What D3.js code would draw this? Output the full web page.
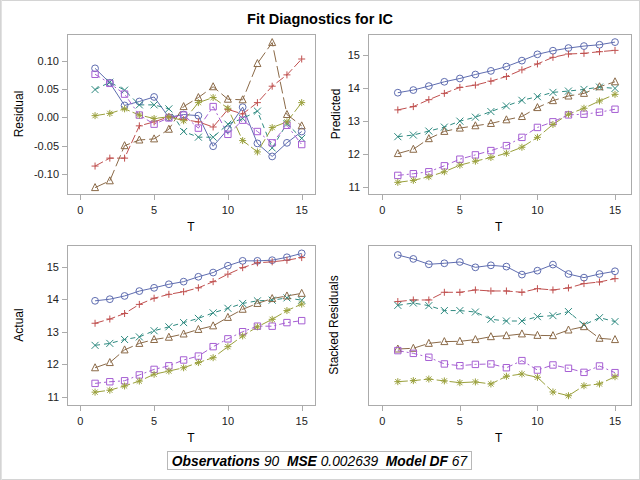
<!DOCTYPE html>
<html><head><meta charset="utf-8">
<script src="https://cdn.jsdelivr.net/npm/d3@7"></script>
<style>body{margin:0;background:#fff;} text{font-family:"Liberation Sans",Arial,sans-serif;}</style>
</head><body><svg id="c" width="640" height="480"></svg>
<script>
const T = d3.range(1, 16);
const seriesNames = ["S1","S2","S3","S4","S5","S6"];
const colors = ["#5f6db0","#c0504f","#2e8a80","#8b6a48","#a65fd3","#9aa03c"];
const dashes = [null,"9,3","5,4","12,4","6,3,2,3","10,3"];
const markers = ["circle","plus","x","triangle","square","star"];

const residual = [
 [0.0865,0.061,0.021,0.028,0.036,0.000,0.005,0.003,-0.051,-0.021,0.018,-0.046,-0.069,-0.045,-0.025],
 [-0.086,-0.072,-0.072,-0.015,-0.008,0.001,-0.004,-0.008,-0.017,0.014,0.006,0.026,0.055,0.075,0.103],
 [0.049,0.062,0.048,0.022,0.022,0.015,-0.025,-0.035,-0.035,-0.012,-0.002,0.011,-0.054,-0.011,-0.037],
 [-0.124,-0.112,-0.050,-0.040,-0.038,-0.021,0.019,0.035,0.054,0.032,0.031,0.095,0.132,0.005,-0.015],
 [0.076,0.060,0.041,0.004,-0.012,-0.001,0.004,-0.019,0.019,-0.030,-0.005,-0.025,-0.045,-0.014,-0.048],
 [0.003,0.007,0.015,0.004,-0.002,0.001,-0.006,0.026,0.035,0.016,-0.041,-0.061,-0.018,-0.008,0.026]
];
const predicted = [
 [13.86,13.94,14.06,14.19,14.29,14.41,14.52,14.65,14.83,15.02,15.13,15.21,15.27,15.31,15.39],
 [13.34,13.44,13.65,13.84,14.02,14.09,14.21,14.35,14.55,14.73,14.93,15.03,15.05,15.10,15.14],
 [12.53,12.58,12.70,12.82,13.00,13.12,13.29,13.46,13.63,13.74,13.87,13.91,13.96,14.03,13.99],
 [12.02,12.15,12.47,12.69,12.79,12.86,12.93,13.04,13.14,13.41,13.62,13.76,13.84,14.04,14.19],
 [11.36,11.41,11.47,11.65,11.85,11.98,12.11,12.26,12.51,12.81,12.98,13.19,13.21,13.27,13.36],
 [11.15,11.21,11.32,11.47,11.67,11.79,11.90,12.03,12.21,12.51,12.90,13.21,13.39,13.61,13.81]
];
const actual = [
 [13.95,14.00,14.10,14.25,14.35,14.46,14.54,14.69,14.82,15.03,15.18,15.18,15.20,15.29,15.41],
 [13.26,13.39,13.56,13.84,14.03,14.15,14.23,14.35,14.54,14.77,14.97,15.12,15.15,15.20,15.28],
 [12.58,12.64,12.76,12.84,13.03,13.15,13.28,13.41,13.58,13.72,13.87,13.95,13.97,14.04,13.97],
 [11.89,12.05,12.44,12.64,12.76,12.83,12.93,13.07,13.18,13.44,13.69,13.87,14.02,14.10,14.18],
 [11.41,11.46,11.49,11.67,11.84,11.95,12.13,12.25,12.54,12.78,13.00,13.17,13.17,13.28,13.34],
 [11.14,11.20,11.33,11.48,11.69,11.79,11.89,12.05,12.20,12.54,12.87,13.15,13.38,13.65,13.85]
];
const stacked = [
 [1.034,1.007,0.970,0.977,0.986,0.949,0.963,0.954,0.899,0.926,0.968,0.903,0.878,0.903,0.922],
 [0.713,0.724,0.724,0.777,0.777,0.793,0.786,0.786,0.777,0.802,0.793,0.807,0.837,0.848,0.871],
 [0.687,0.703,0.685,0.651,0.651,0.641,0.591,0.579,0.579,0.609,0.616,0.644,0.552,0.602,0.575],
 [0.386,0.391,0.425,0.437,0.439,0.451,0.471,0.478,0.490,0.480,0.478,0.517,0.540,0.460,0.451],
 [0.375,0.356,0.329,0.283,0.271,0.280,0.283,0.257,0.306,0.241,0.276,0.253,0.225,0.269,0.223],
 [0.161,0.168,0.179,0.166,0.154,0.159,0.145,0.198,0.214,0.191,0.090,0.064,0.133,0.145,0.195]
];
const xTicks = [0,5,10,15];
const residTicks = [-0.10,-0.05,0.00,0.05,0.10];
const levelTicks = [11,12,13,14,15];
const title = "Fit Diagnostics for IC";
const footer = [["Observations",true],[" 90  ",false],["MSE",true],[" 0.002639  ",false],["Model DF",true],[" 67",false]];

const svg = d3.select("#c");
const frameCol = "#ababab";
svg.append("rect").attr("x",0.5).attr("y",0.5).attr("width",639).attr("height",479)
  .attr("fill","#fff").attr("stroke","#d4d4d4");
svg.append("line").attr("x1",1.5).attr("x2",1.5).attr("y1",0).attr("y2",480).attr("stroke","#e2e2e2");

svg.append("text").attr("x",320).attr("y",24).attr("text-anchor","middle")
  .attr("font-size",14.5).attr("font-weight","bold").text(title);

function drawMarker(g, type, x, y, col){
  const s=3.5;
  if(type==="circle"){ g.append("circle").attr("cx",x).attr("cy",y).attr("r",3.4).attr("fill","none").attr("stroke",col); return;}
  let d="";
  if(type==="plus") d=`M${x-s},${y}H${x+s}M${x},${y-s}V${y+s}`;
  if(type==="x") d=`M${x-s},${y-s}L${x+s},${y+s}M${x-s},${y+s}L${x+s},${y-s}`;
  if(type==="triangle") d=`M${x},${y-s-0.5}L${x+s},${y+s-0.5}L${x-s},${y+s-0.5}Z`;
  if(type==="square") d=`M${x-3.2},${y-3.2}h6.4v6.4h-6.4Z`;
  if(type==="star") d=`M${x-s},${y}H${x+s}M${x},${y-s}V${y+s}M${x-2.6},${y-2.6}L${x+2.6},${y+2.6}M${x-2.6},${y+2.6}L${x+2.6},${y-2.6}`;
  g.append("path").attr("d",d).attr("fill","none").attr("stroke",col).attr("stroke-width",1);
}

function panel(opt){
  const {x0,x1,y0,y1,xs,ys,data,yTicks,yFmt,ylabel,ylabelX,tickY,tLabelY} = opt;
  const g = svg.append("g");
  g.append("rect").attr("x",x0+0.5).attr("y",y0+0.5).attr("width",x1-x0).attr("height",y1-y0)
    .attr("fill","#fff").attr("stroke",frameCol);
  xTicks.forEach(t=>{
    const X = Math.round(xs(t))+0.5;
    g.append("line").attr("x1",X).attr("x2",X).attr("y1",y1+0.5).attr("y2",y1+6).attr("stroke",frameCol);
    g.append("text").attr("x",xs(t)).attr("y",tickY).attr("text-anchor","middle").attr("font-size",11).attr("fill","#222").text(t);
  });
  g.append("text").attr("x",(xs(0)+xs(15))/2).attr("y",tLabelY).attr("text-anchor","middle").attr("font-size",12).text("T");
  if(yTicks){
    yTicks.forEach(t=>{
      const Y = Math.round(ys(t))+0.5;
      g.append("line").attr("x1",x0+0.5).attr("x2",x0-5).attr("y1",Y).attr("y2",Y).attr("stroke",frameCol);
      g.append("text").attr("x",x0-8).attr("y",ys(t)+4).attr("text-anchor","end").attr("font-size",11).attr("fill","#222").text(yFmt(t));
    });
  }
  g.append("text").attr("transform",`translate(${ylabelX},${(y0+y1)/2}) rotate(-90)`)
    .attr("text-anchor","middle").attr("font-size",12).text(ylabel);
  const line = d3.line().x((d,i)=>xs(T[i])).y(d=>ys(d));
  data.forEach((s,k)=>{
    g.append("path").attr("d",line(s)).attr("fill","none").attr("stroke",colors[k])
      .attr("stroke-width",1).attr("stroke-dasharray",dashes[k]);
  });
  data.forEach((s,k)=>{
    s.forEach((v,i)=>drawMarker(g,markers[k],xs(T[i]),ys(v),colors[k]));
  });
}

const xsL = d3.scaleLinear().domain([0,15]).range([80.3,301.7]);
const xsR = d3.scaleLinear().domain([0,15]).range([382.3,615]);
const fmt2 = d=>d3.format(".2f")(d).replace("−","-");

panel({x0:67,x1:315,y0:34,y1:194,xs:xsL,ys:d3.scaleLinear().domain([-0.1,0.1]).range([174,60.7]),
  data:residual,yTicks:residTicks,yFmt:fmt2,ylabel:"Residual",ylabelX:23,tickY:214,tLabelY:231});
panel({x0:368,x1:631,y0:34,y1:194,xs:xsR,ys:d3.scaleLinear().domain([11,15]).range([187.3,55]),
  data:predicted,yTicks:levelTicks,yFmt:d=>d,ylabel:"Predicted",ylabelX:340,tickY:214,tLabelY:231});
panel({x0:67,x1:315,y0:245,y1:405,xs:xsL,ys:d3.scaleLinear().domain([11,15]).range([396.7,266.7]),
  data:actual,yTicks:levelTicks,yFmt:d=>d,ylabel:"Actual",ylabelX:23,tickY:425,tLabelY:442});
panel({x0:368,x1:631,y0:245,y1:405,xs:xsR,ys:d3.scaleLinear().domain([0,1.103]).range([405,245]),
  data:stacked,yTicks:null,yFmt:null,ylabel:"Stacked Residuals",ylabelX:338,tickY:425,tLabelY:442});

svg.append("rect").attr("x",167.5).attr("y",451.5).attr("width",304).attr("height",18)
  .attr("fill","#fff").attr("stroke","#b8b8b8");
const ft = svg.append("text").attr("x",319.5).attr("y",465.8).attr("text-anchor","middle")
  .attr("font-size",13.8).attr("font-style","italic").attr("xml:space","preserve");
footer.forEach(([s,b])=>ft.append("tspan").attr("font-weight",b?"bold":"normal").text(s));
</script></body></html>
